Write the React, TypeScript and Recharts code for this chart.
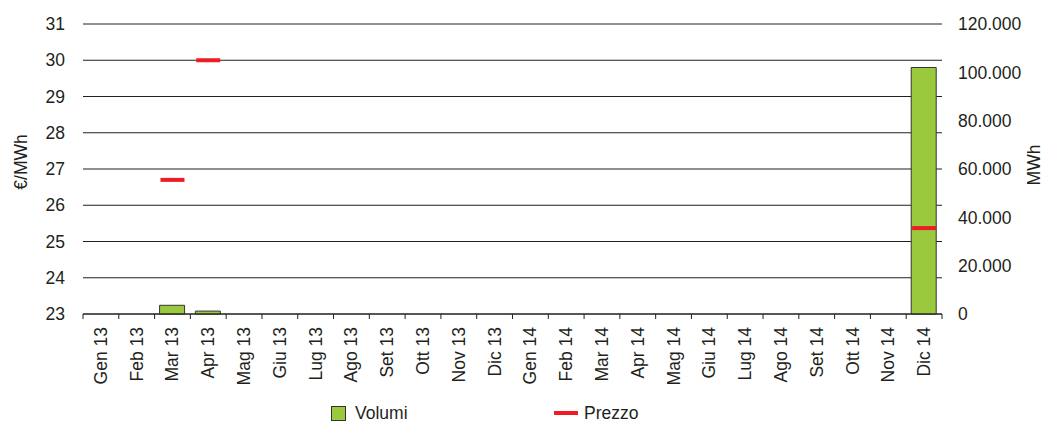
import React from 'react';
import { ComposedChart, Bar, Line, XAxis, YAxis, CartesianGrid } from 'recharts';

const categories = ['Gen 13','Feb 13','Mar 13','Apr 13','Mag 13','Giu 13','Lug 13','Ago 13','Set 13','Ott 13','Nov 13','Dic 13','Gen 14','Feb 14','Mar 14','Apr 14','Mag 14','Giu 14','Lug 14','Ago 14','Set 14','Ott 14','Nov 14','Dic 14'];
const volumi: (number | null)[] = [null,null,3600,1200,null,null,null,null,null,null,null,null,null,null,null,null,null,null,null,null,null,null,null,102000];
const prezzo: (number | null)[] = [null,null,26.7,30.0,null,null,null,null,null,null,null,null,null,null,null,null,null,null,null,null,null,null,null,25.37];
const leftTicks = [23,24,25,26,27,28,29,30,31];
const rightTicks = [0,20000,40000,60000,80000,100000,120000];

const data = categories.map((c, i) => ({ name: c, volumi: volumi[i], prezzo: prezzo[i] }));

const FONT = '"Liberation Sans", Arial, sans-serif';
const TEXT = '#231F20';
const GREEN = '#9BC93E';
const RED = '#EE1C25';

const fmtDots = (v: number) => String(v).replace(/\B(?=(\d{3})+(?!\d))/g, '.');

const XTick = (props: any) => {
  const { x, y, payload, index, visibleTicksCount } = props;
  const half = 17.9;
  return (
    <g>
      <line x1={x - half} x2={x - half} y1={y} y2={y + 5} stroke={TEXT} strokeWidth={1} />
      {index === (visibleTicksCount ?? 24) - 1 && (
        <line x1={x + half} x2={x + half} y1={y} y2={y + 5} stroke={TEXT} strokeWidth={1} />
      )}
      <text
        x={x}
        y={y + 13}
        transform={`rotate(-90 ${x} ${y + 13})`}
        textAnchor="end"
        dominantBaseline="central"
        fontFamily={FONT}
        fontSize={17.5}
        fill={TEXT}
      >
        {payload.value}
      </text>
    </g>
  );
};

const PriceDot = (props: any) => {
  const { cx, cy, value } = props;
  if (value == null || cy == null || isNaN(cy)) return <g key={props.key} />;
  return <rect key={props.key} x={cx - 12} y={cy - 2} width={24} height={4} fill={RED} />;
};

export default function App() {
  return (
    <div style={{ position: 'absolute', left: 0, top: 0, width: 1045, height: 423, background: '#fff' }}>
      <ComposedChart
        width={1045}
        height={423}
        data={data}
        margin={{ top: 24, right: 0, bottom: 0, left: 0 }}
        barCategoryGap={0}
      >
        <CartesianGrid vertical={false} stroke={TEXT} strokeWidth={1} yAxisId="left" />
        <XAxis
          dataKey="name"
          height={109}
          tick={<XTick />}
          tickLine={false}
          axisLine={{ stroke: TEXT, strokeWidth: 1 }}
          interval={0}
          tickSize={0}
          tickMargin={0}
        />
        <YAxis
          yAxisId="left"
          width={83}
          domain={[23, 31]}
          ticks={leftTicks}
          interval={0}
          axisLine={false}
          tickLine={false}
          tickSize={6}
          tickMargin={12}
          tick={{ fontFamily: FONT, fontSize: 17.5, fill: TEXT }}
          label={{
            content: () => (
              <text x={21} y={162} transform="rotate(-90 21 162)" textAnchor="middle" dominantBaseline="central" fontFamily={FONT} fontSize={17.5} fill={TEXT}>
                €/MWh
              </text>
            ),
          }}
        />
        <YAxis
          yAxisId="right"
          orientation="right"
          width={103}
          domain={[0, 120000]}
          ticks={rightTicks}
          interval={0}
          axisLine={false}
          tickLine={false}
          tickSize={6}
          tickMargin={10}
          tickFormatter={(v: number) => fmtDots(v)}
          tick={{ fontFamily: FONT, fontSize: 17.5, fill: TEXT }}
          label={{
            content: () => (
              <text x={1034} y={165} transform="rotate(-90 1034 165)" textAnchor="middle" dominantBaseline="central" fontFamily={FONT} fontSize={17.5} fill={TEXT}>
                MWh
              </text>
            ),
          }}
        />
        <Bar
          yAxisId="right"
          dataKey="volumi"
          fill={GREEN}
          stroke="#333333"
          strokeWidth={1}
          barSize={25}
          isAnimationActive={false}
        />
        <Line
          yAxisId="left"
          dataKey="prezzo"
          stroke="none"
          dot={<PriceDot />}
          activeDot={false}
          connectNulls={false}
          isAnimationActive={false}
        />
      </ComposedChart>
      <div style={{ position: 'absolute', left: 331, top: 406, width: 13, height: 13, background: GREEN, border: '1px solid #333' }} />
      <div style={{ position: 'absolute', left: 355, top: 401, fontFamily: FONT, fontSize: 17.5, color: TEXT, lineHeight: '24px' }}>Volumi</div>
      <div style={{ position: 'absolute', left: 554, top: 411, width: 24, height: 4, background: RED }} />
      <div style={{ position: 'absolute', left: 584, top: 401, fontFamily: FONT, fontSize: 17.5, color: TEXT, lineHeight: '24px' }}>Prezzo</div>
    </div>
  );
}
